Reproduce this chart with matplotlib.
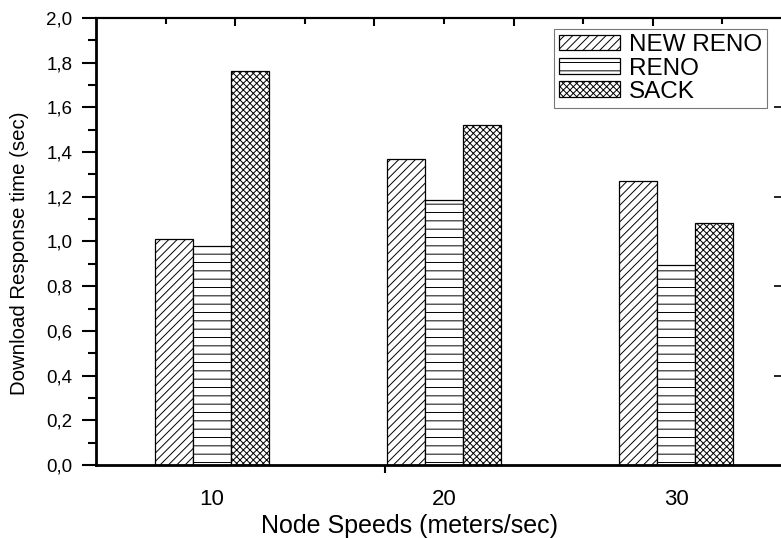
import matplotlib
matplotlib.use('Agg')
import matplotlib.pyplot as plt
import numpy as np
from matplotlib.ticker import FuncFormatter, MultipleLocator

plt.rcParams['font.family'] = ['Liberation Sans', 'DejaVu Sans']
plt.rcParams['hatch.linewidth'] = 0.7

# data
speeds = [10, 20, 30]
series = ['NEW RENO', 'RENO', 'SACK']
new_reno = [1.01, 1.37, 1.27]
reno = [0.98, 1.185, 0.895]
sack = [1.765, 1.52, 1.085]
hatches = ['////', '--', 'xxxxx']

fig = plt.figure(figsize=(7.81, 5.38), dpi=100)
ax = fig.add_axes([96 / 781, 73 / 538, 696 / 781, 447 / 538])

w = 1.64
x = np.array(speeds, dtype=float)
for i, (vals, h) in enumerate(zip([new_reno, reno, sack], hatches)):
    ax.bar(x + (i - 1) * w, vals, width=w, color='white', edgecolor='black',
           hatch=h, linewidth=0.9, label=series[i], zorder=2)

ax.set_xlim(5, 35)
ax.set_ylim(0, 2.0)

# bottom axis: labels at group centres, one lone tick
ax.set_xticks(speeds)
ax.set_xticklabels([str(s) for s in speeds], fontsize=16)
ax.tick_params(axis='x', which='major', length=0, pad=17)
ax.set_xticks([17.46], minor=True)
ax.tick_params(axis='x', which='minor', length=6, width=1.5, direction='out')

ax.yaxis.set_major_locator(MultipleLocator(0.2))
ax.yaxis.set_minor_locator(MultipleLocator(0.1))
ax.yaxis.set_major_formatter(FuncFormatter(lambda v, p: ('%.1f' % v).replace('.', ',')))
ax.tick_params(axis='y', which='major', length=10, width=1.5, direction='out',
               labelsize=13.5, pad=7)
ax.tick_params(axis='y', which='minor', length=6, width=1.5, direction='out')

for s in ['left', 'bottom']:
    ax.spines[s].set_linewidth(2)
for s in ['top', 'right']:
    ax.spines[s].set_linewidth(1.5)

# top axis ticks (inward)
top = ax.secondary_xaxis('top')
top.set_xticks([11, 17, 23, 29])
top.set_xticks([8, 14, 20, 26, 32], minor=True)
top.tick_params(which='major', direction='in', length=6, width=1.5, labeltop=False)
top.tick_params(which='minor', direction='in', length=4, width=1.5)
top.spines['top'].set_linewidth(1.5)

# right axis ticks (inward, spine off the picture)
right = ax.secondary_yaxis('right')
right.set_yticks([0.4, 0.8, 1.2, 1.6])
right.tick_params(direction='in', length=13, width=1.2, labelright=False)

fig.text(410 / 781, 1 - 526 / 538, 'Node Speeds (meters/sec)', fontsize=18,
         ha='center', va='center')
ax.set_ylabel('Download Response time (sec)', fontsize=14.7)
ax.yaxis.set_label_coords(-67 / 696, 0.5 - 12 / 447)

leg = ax.legend(loc='upper right', bbox_to_anchor=(767 / 781, 1 - 29 / 538),
                bbox_transform=fig.transFigure, fontsize=17.5, fancybox=False,
                handlelength=2.5, handleheight=0.6, labelspacing=0.05,
                borderpad=0.22, handletextpad=0.35, borderaxespad=0)
leg.get_frame().set_edgecolor('#555555')
leg.get_frame().set_linewidth(0.8)

fig.savefig('out.png', dpi=100)
